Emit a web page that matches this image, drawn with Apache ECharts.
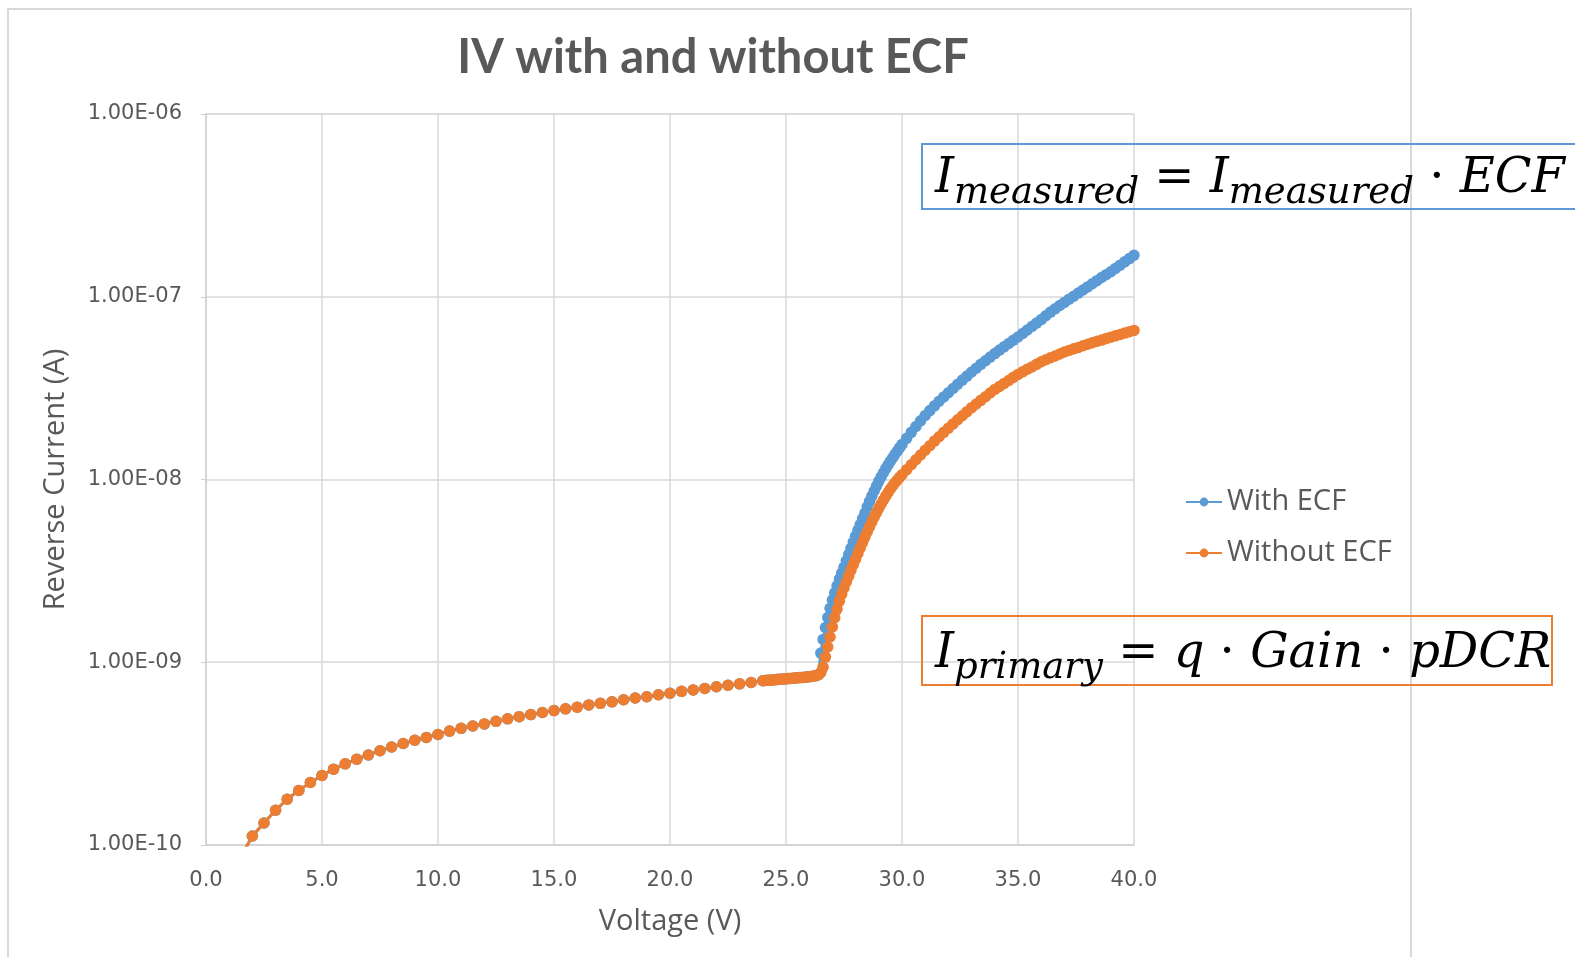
<!DOCTYPE html>
<html>
<head>
<meta charset="utf-8">
<title>IV with and without ECF</title>
<script src="https://cdn.jsdelivr.net/npm/echarts@6/dist/echarts.min.js"></script>
<style>
  html, body { margin: 0; padding: 0; background: #ffffff; }
  #chart { width: 1575px; height: 957px; }
</style>
</head>
<body>
<div id="chart"></div>
<script>
// Reverse-bias IV sweep, with and without the excess-charge-factor (ECF) correction.

// Coarse sweep: 0.5 V steps below 24 V (both curves coincide here)
const lowVolts = [1.5, 2.0, 2.5, 3.0, 3.5, 4.0, 4.5, 5.0, 5.5, 6.0, 6.5, 7.0, 7.5, 8.0, 8.5, 9.0, 9.5, 10.0,
  10.5, 11.0, 11.5, 12.0, 12.5, 13.0, 13.5, 14.0, 14.5, 15.0, 15.5, 16.0, 16.5, 17.0, 17.5, 18.0, 18.5,
  19.0, 19.5, 20.0, 20.5, 21.0, 21.5, 22.0, 22.5, 23.0, 23.5];
const lowCurrent = [8.6e-11, 1.12e-10, 1.32e-10, 1.55e-10, 1.78e-10, 1.99e-10, 2.20e-10, 2.40e-10, 2.60e-10,
  2.78e-10, 2.95e-10, 3.11e-10, 3.28e-10, 3.44e-10, 3.59e-10, 3.74e-10, 3.88e-10, 4.03e-10, 4.20e-10,
  4.35e-10, 4.48e-10, 4.60e-10, 4.75e-10, 4.90e-10, 5.04e-10, 5.17e-10, 5.31e-10, 5.44e-10, 5.56e-10,
  5.68e-10, 5.84e-10, 5.96e-10, 6.07e-10, 6.23e-10, 6.37e-10, 6.47e-10, 6.64e-10, 6.77e-10, 6.93e-10,
  7.06e-10, 7.19e-10, 7.34e-10, 7.48e-10, 7.62e-10, 7.75e-10];

// Fine sweep: 0.1 V steps through breakdown
const fineVolts = [24.0, 24.1, 24.2, 24.3, 24.4, 24.5, 24.6, 24.7, 24.8, 24.9, 25.0, 25.1, 25.2, 25.3, 25.4,
  25.5, 25.6, 25.7, 25.8, 25.9, 26.0, 26.1, 26.2, 26.3, 26.4, 26.5, 26.6, 26.7, 26.8, 26.9, 27.0, 27.1,
  27.2, 27.3, 27.4, 27.5, 27.6, 27.7, 27.8, 27.9, 28.0, 28.1, 28.2, 28.3, 28.4, 28.5, 28.6, 28.7, 28.8,
  28.9, 29.0, 29.1, 29.2, 29.3, 29.4, 29.5, 29.6, 29.7, 29.8, 29.9, 30.0];
const withEcfFine = [7.92e-10, 7.94e-10, 7.96e-10, 7.98e-10, 8.00e-10, 8.02e-10, 8.04e-10, 8.06e-10, 8.08e-10,
  8.10e-10, 8.12e-10, 8.14e-10, 8.16e-10, 8.18e-10, 8.20e-10, 8.22e-10, 8.24e-10, 8.26e-10, 8.28e-10,
  8.30e-10, 8.33e-10, 8.36e-10, 8.40e-10, 8.45e-10, 8.55e-10,
  1.122e-9, 1.334e-9, 1.549e-9, 1.758e-9, 1.972e-9, 2.188e-9, 2.399e-9, 2.618e-9, 2.851e-9, 3.076e-9,
  3.311e-9, 3.589e-9, 3.882e-9, 4.198e-9, 4.539e-9, 4.898e-9, 5.272e-9, 5.675e-9, 6.095e-9, 6.531e-9,
  7.079e-9, 7.586e-9, 8.110e-9, 8.650e-9, 9.204e-9, 9.772e-9, 1.033e-8, 1.089e-8, 1.146e-8, 1.202e-8,
  1.259e-8, 1.315e-8, 1.374e-8, 1.432e-8, 1.493e-8, 1.556e-8];
const withoutEcfFine = [7.92e-10, 7.94e-10, 7.96e-10, 7.98e-10, 8.00e-10, 8.02e-10, 8.04e-10, 8.06e-10, 8.08e-10,
  8.10e-10, 8.12e-10, 8.14e-10, 8.16e-10, 8.18e-10, 8.20e-10, 8.22e-10, 8.24e-10, 8.26e-10, 8.28e-10,
  8.30e-10, 8.33e-10, 8.36e-10, 8.40e-10, 8.45e-10, 8.55e-10,
  8.79e-10, 9.40e-10, 1.067e-9, 1.211e-9, 1.374e-9, 1.560e-9, 1.754e-9, 1.954e-9, 2.158e-9, 2.355e-9,
  2.547e-9, 2.748e-9, 2.958e-9, 3.184e-9, 3.420e-9, 3.664e-9, 3.936e-9, 4.217e-9, 4.519e-9, 4.831e-9,
  5.164e-9, 5.508e-9, 5.861e-9, 6.223e-9, 6.592e-9, 6.966e-9, 7.345e-9, 7.727e-9, 8.110e-9, 8.492e-9,
  8.872e-9, 9.247e-9, 9.594e-9, 9.931e-9, 1.028e-8, 1.062e-8];

// Upper sweep: 0.2 V steps up to 40 V
const highVolts = [30.2, 30.4, 30.6, 30.8, 31.0, 31.2, 31.4, 31.6, 31.8, 32.0, 32.2, 32.4, 32.6, 32.8, 33.0,
  33.2, 33.4, 33.6, 33.8, 34.0, 34.2, 34.4, 34.6, 34.8, 35.0, 35.2, 35.4, 35.6, 35.8, 36.0, 36.2, 36.4,
  36.6, 36.8, 37.0, 37.2, 37.4, 37.6, 37.8, 38.0, 38.2, 38.4, 38.6, 38.8, 39.0, 39.2, 39.4, 39.6, 39.8, 40.0];
const withEcfHigh = [1.679e-8, 1.811e-8, 1.950e-8, 2.094e-8, 2.239e-8, 2.382e-8, 2.529e-8, 2.679e-8, 2.831e-8,
  2.985e-8, 3.148e-8, 3.319e-8, 3.499e-8, 3.681e-8, 3.873e-8, 4.064e-8, 4.266e-8, 4.467e-8, 4.677e-8,
  4.887e-8, 5.105e-8, 5.321e-8, 5.546e-8, 5.781e-8, 6.026e-8, 6.295e-8, 6.577e-8, 6.871e-8, 7.178e-8,
  7.499e-8, 7.870e-8, 8.241e-8, 8.590e-8, 8.954e-8, 9.311e-8, 9.683e-8, 1.007e-7, 1.047e-7, 1.089e-7,
  1.132e-7, 1.178e-7, 1.225e-7, 1.274e-7, 1.321e-7, 1.371e-7, 1.429e-7, 1.489e-7, 1.552e-7, 1.618e-7, 1.687e-7];
const withoutEcfHigh = [1.132e-8, 1.205e-8, 1.282e-8, 1.361e-8, 1.445e-8, 1.531e-8, 1.622e-8, 1.714e-8, 1.811e-8,
  1.910e-8, 2.014e-8, 2.123e-8, 2.234e-8, 2.350e-8, 2.472e-8, 2.588e-8, 2.710e-8, 2.838e-8, 2.972e-8,
  3.112e-8, 3.228e-8, 3.357e-8, 3.483e-8, 3.622e-8, 3.758e-8, 3.882e-8, 4.009e-8, 4.130e-8, 4.266e-8,
  4.406e-8, 4.519e-8, 4.634e-8, 4.742e-8, 4.864e-8, 4.989e-8, 5.082e-8, 5.188e-8, 5.284e-8, 5.395e-8,
  5.495e-8, 5.598e-8, 5.702e-8, 5.794e-8, 5.902e-8, 6.012e-8, 6.109e-8, 6.223e-8, 6.324e-8, 6.442e-8, 6.546e-8];

const seriesNames = ['With ECF', 'Without ECF'];
const xTickValues = [0, 5, 10, 15, 20, 25, 30, 35, 40];
const xTickLabels = ['0.0', '5.0', '10.0', '15.0', '20.0', '25.0', '30.0', '35.0', '40.0'];
const yTickExponents = [-10, -9, -8, -7, -6];
const yTickLabels = ['1.00E-10', '1.00E-09', '1.00E-08', '1.00E-07', '1.00E-06'];

const BLUE = '#5B9BD5';
const ORANGE = '#ED7D31';
const TEXT = '#595959';

function pairs(xs, ys) {
  return xs.map((x, i) => [x, ys[i]]);
}

const withEcfData = pairs(lowVolts, lowCurrent)
  .concat(pairs(fineVolts, withEcfFine), pairs(highVolts, withEcfHigh));
const withoutEcfData = pairs(lowVolts, lowCurrent)
  .concat(pairs(fineVolts, withoutEcfFine), pairs(highVolts, withoutEcfHigh));

const chart = echarts.init(document.getElementById('chart'), null, { renderer: 'canvas' });

// Equation typography: italic symbols, lowered italic subscripts, upright operators.
// Main-size tokens carry bottom padding so the subscripts sit below their baseline.
const mathStyles = {
  I: { fontFamily: 'DejaVu Serif', fontStyle: 'italic', fontSize: 48, lineHeight: 56, padding: [0, 0, 8, 0], color: '#000', verticalAlign: 'bottom' },
  sub: { fontFamily: 'DejaVu Serif', fontStyle: 'italic', fontSize: 37, lineHeight: 40, color: '#000', verticalAlign: 'bottom' },
  op: { fontFamily: 'DejaVu Serif', fontSize: 48, lineHeight: 56, padding: [0, 0, 8, 0], color: '#000', verticalAlign: 'bottom' }
};

const option = {
  animation: false,
  backgroundColor: '#ffffff',
  title: {
    text: 'IV with and without ECF',
    left: 708,
    top: 29,
    textAlign: 'center',
    textStyle: { fontFamily: 'Lato', fontWeight: 'bold', fontSize: 47, color: TEXT }
  },
  legend: {
    orient: 'vertical',
    left: 1185,
    top: 487,
    padding: 0,
    itemWidth: 36,
    itemHeight: 11,
    itemGap: 21,
    data: seriesNames,
    textStyle: { fontFamily: 'Open Sans', fontSize: 29, color: TEXT, lineHeight: 30 }
  },
  grid: { left: 206, right: 441, top: 114, bottom: 112 },
  xAxis: {
    type: 'value',
    min: 0,
    max: 40,
    interval: 5,
    name: 'Voltage (V)',
    nameLocation: 'middle',
    nameGap: 62,
    nameTextStyle: { fontFamily: 'Open Sans', fontSize: 29, color: TEXT },
    axisLine: { lineStyle: { color: '#d0d0d0', width: 1.5 } },
    axisTick: { show: false },
    axisLabel: {
      margin: 25,
      fontFamily: 'DejaVu Sans',
      fontSize: 21,
      color: TEXT,
      formatter: v => {
        const i = xTickValues.indexOf(Math.round(v));
        return i >= 0 ? xTickLabels[i] : '';
      }
    },
    splitLine: { show: true, lineStyle: { color: '#d9d9d9', width: 1.5 } }
  },
  yAxis: {
    type: 'log',
    logBase: 10,
    min: 1e-10,
    max: 1e-6,
    name: 'Reverse Current (A)',
    nameLocation: 'middle',
    nameGap: 136,
    nameTextStyle: { fontFamily: 'Open Sans', fontSize: 29, color: TEXT },
    axisLine: { show: true, lineStyle: { color: '#d0d0d0', width: 1.5 } },
    axisTick: { show: true, length: 5, lineStyle: { color: '#d0d0d0' } },
    axisLabel: {
      margin: 24,
      fontFamily: 'DejaVu Sans',
      fontSize: 21,
      color: TEXT,
      formatter: v => {
        const i = yTickExponents.indexOf(Math.round(Math.log10(v)));
        return i >= 0 ? yTickLabels[i] : '';
      }
    },
    splitLine: { show: true, lineStyle: { color: '#d9d9d9', width: 1.5 } }
  },
  series: [
    {
      name: seriesNames[0],
      type: 'line',
      data: withEcfData,
      clip: true,
      symbol: 'circle',
      symbolSize: 11.5,
      showSymbol: true,
      itemStyle: { color: BLUE },
      lineStyle: { color: BLUE, width: 3 },
      emphasis: { disabled: true }
    },
    {
      name: seriesNames[1],
      type: 'line',
      data: withoutEcfData,
      clip: true,
      symbol: 'circle',
      symbolSize: 11.5,
      showSymbol: true,
      itemStyle: { color: ORANGE },
      lineStyle: { color: ORANGE, width: 3 },
      emphasis: { disabled: true }
    }
  ],
  graphic: [
    {
      type: 'rect',
      z: -10,
      silent: true,
      shape: { x: 8, y: 9, width: 1403, height: 980 },
      style: { fill: 'none', stroke: '#d9d9d9', lineWidth: 2 }
    },
    {
      type: 'rect',
      z: 100,
      silent: true,
      shape: { x: 922, y: 144, width: 680, height: 65 },
      style: { fill: 'rgba(255,255,255,0)', stroke: BLUE, lineWidth: 2 }
    },
    {
      type: 'text',
      z: 101,
      silent: true,
      x: 935,
      y: 184,
      style: {
        text: '{I|I}{sub|measured}{op| = }{I|I}{sub|measured}{op| · }{I|ECF}',
        verticalAlign: 'middle',
        rich: mathStyles
      }
    },
    {
      type: 'rect',
      z: 100,
      silent: true,
      shape: { x: 922, y: 616, width: 630, height: 69 },
      style: { fill: 'rgba(255,255,255,0)', stroke: ORANGE, lineWidth: 2 }
    },
    {
      type: 'text',
      z: 101,
      silent: true,
      x: 935,
      y: 659,
      style: {
        text: '{I|I}{sub|primary}{op| = }{I|q}{op| · }{I|Gain}{op| · }{I|pDCR}',
        verticalAlign: 'middle',
        rich: mathStyles
      }
    }
  ]
};

chart.setOption(option);
</script>
</body>
</html>
